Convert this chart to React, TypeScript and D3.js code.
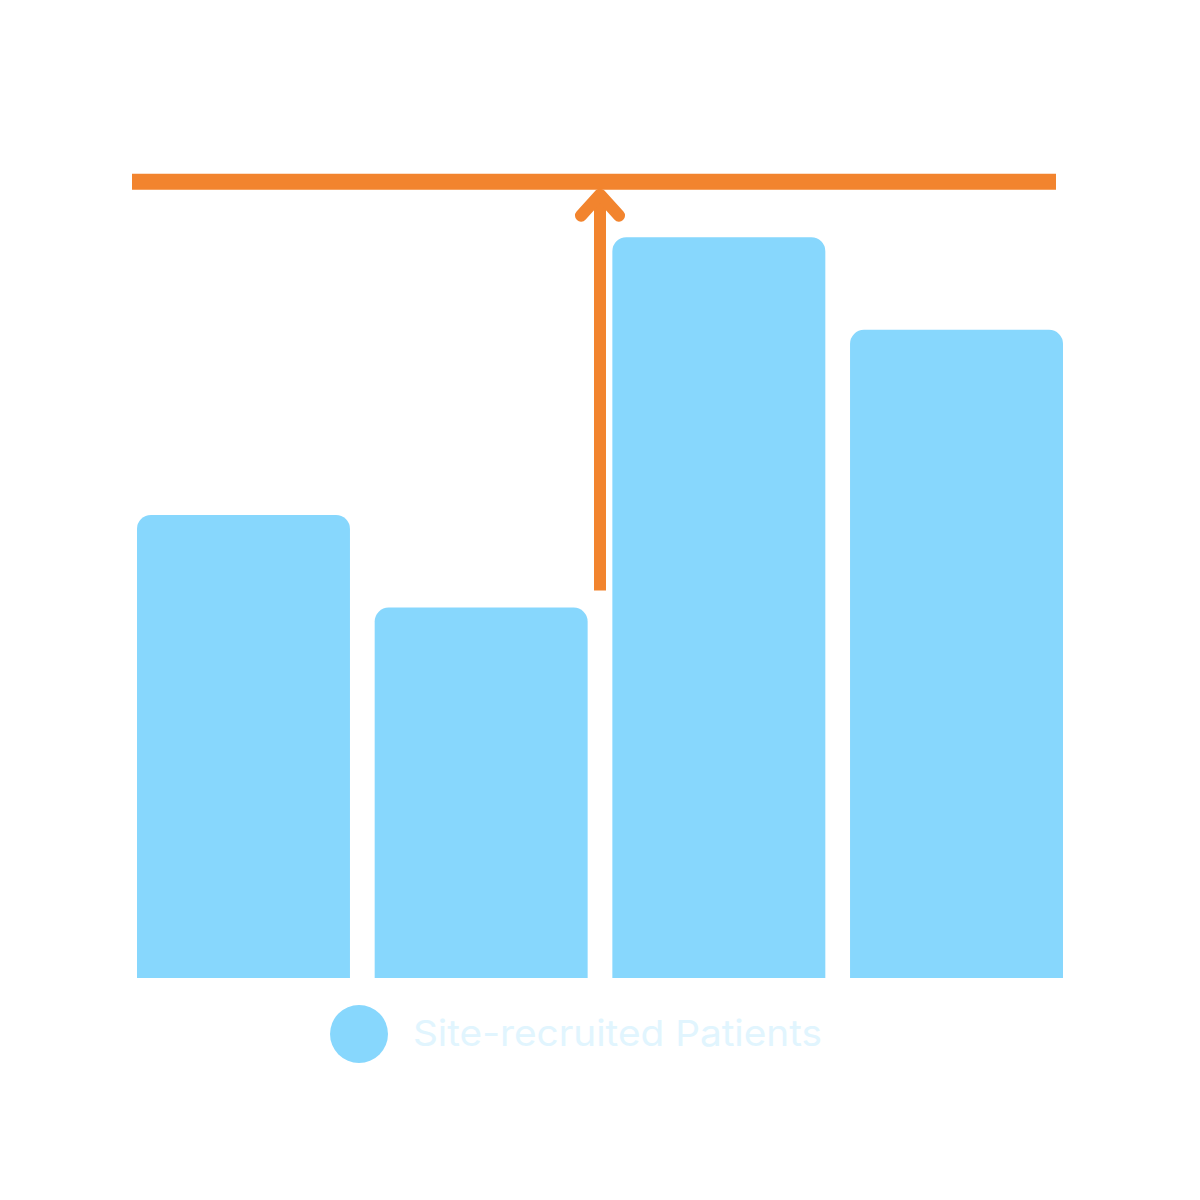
import React, { useEffect, useRef } from "react";
import * as d3 from "d3";

const categories = ["A", "B", "C", "D"];
const values = [5, 4, 8, 7];
const target = 8.6;
const legendLabel = "Site-recruited Patients";

const BAR_COLOR = "#87D7FD";
const LINE_COLOR = "#F2842E";
const LEGEND_TEXT = "#E1F5FE";

export default function App() {
  const ref = useRef<SVGSVGElement>(null);

  useEffect(() => {
    const svg = d3.select(ref.current);
    svg.selectAll("*").remove();

    const x = d3
      .scaleBand<string>()
      .domain(categories)
      .range([137, 1063])
      .paddingInner(0.104)
      .paddingOuter(0);

    const y = d3.scaleLinear().domain([0, 10]).range([978, 52]);

    // bars with rounded top corners
    const r = 14;
    const barPath = (x0: number, y0: number, w: number, y1: number) => {
      const p = d3.path();
      p.moveTo(x0, y1);
      p.lineTo(x0, y0 + r);
      p.arcTo(x0, y0, x0 + r, y0, r);
      p.lineTo(x0 + w - r, y0);
      p.arcTo(x0 + w, y0, x0 + w, y0 + r, r);
      p.lineTo(x0 + w, y1);
      p.closePath();
      return p.toString();
    };

    svg
      .append("g")
      .selectAll("path")
      .data(values)
      .enter()
      .append("path")
      .attr("d", (d, i) =>
        barPath(x(categories[i]) as number, y(d), x.bandwidth(), y(0))
      )
      .attr("fill", BAR_COLOR);

    // target line
    svg
      .append("line")
      .attr("x1", 132)
      .attr("x2", 1056)
      .attr("y1", y(target))
      .attr("y2", y(target))
      .attr("stroke", LINE_COLOR)
      .attr("stroke-width", 16);

    // arrow from bar B up to target
    const ax =
      ((x(categories[1]) as number) + x.bandwidth() + (x(categories[2]) as number)) / 2;
    const yStart = y(values[1]) - 17;
    const yTip = y(target) + 10;
    svg
      .append("line")
      .attr("x1", ax)
      .attr("x2", ax)
      .attr("y1", yStart)
      .attr("y2", yTip + 4)
      .attr("stroke", LINE_COLOR)
      .attr("stroke-width", 12);
    svg
      .append("path")
      .attr(
        "d",
        `M${ax - 19},${yTip + 24}L${ax},${yTip + 3}L${ax + 19},${yTip + 24}`
      )
      .attr("fill", "none")
      .attr("stroke", LINE_COLOR)
      .attr("stroke-width", 12)
      .attr("stroke-linecap", "round")
      .attr("stroke-linejoin", "round");

    // legend
    const lg = svg.append("g");
    lg.append("circle")
      .attr("cx", 359)
      .attr("cy", 1034)
      .attr("r", 29)
      .attr("fill", BAR_COLOR);
    lg.append("text")
      .attr("x", 413)
      .attr("y", 1046)
      .text(legendLabel)
      .attr("fill", LEGEND_TEXT)
      .style("font-family", "Inter, 'Noto Sans', sans-serif")
      .style("font-size", "36px")
      .attr("textLength", 409)
      .attr("lengthAdjust", "spacingAndGlyphs");
  }, []);

  return (
    <svg
      ref={ref}
      width={1200}
      height={1200}
      style={{ position: "absolute", left: 0, top: 0, background: "#fff" }}
    />
  );
}
